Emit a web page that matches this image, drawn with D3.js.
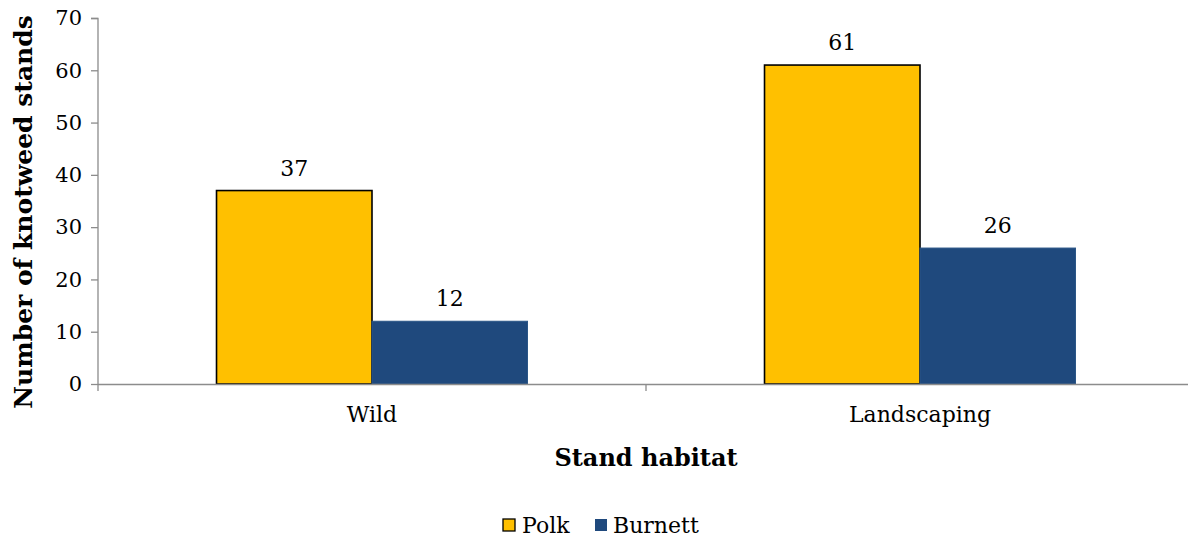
<!DOCTYPE html>
<html>
<head>
<meta charset="utf-8">
<script src="https://cdn.jsdelivr.net/npm/d3@7"></script>
<style>
  html, body { margin: 0; padding: 0; background: #fff; }
  svg text { font-family: "DejaVu Serif", Georgia, serif; fill: #000; }
</style>
</head>
<body>
<svg id="chart" width="1188" height="538"></svg>
<script>
// Knotweed stands by habitat and county
const categories = ["Wild", "Landscaping"];
const seriesNames = ["Polk", "Burnett"];
const polkValues = [37, 61];
const burnettValues = [12, 26];
const yTicks = [0, 10, 20, 30, 40, 50, 60, 70];

const colors = { Polk: "#FFC000", Burnett: "#1F497D" };
const strokes = { Polk: "#000000", Burnett: "#2A5587" };

const svg = d3.select("#chart");
const margin = { left: 98, right: -6, top: 18, bottom: 154 };
const W = 1188, H = 538;
const plotW = W - margin.left - margin.right;
const plotH = H - margin.top - margin.bottom;

const g = svg.append("g").attr("transform", `translate(${margin.left},${margin.top})`);

const x = d3.scaleBand().domain(categories).range([0, plotW]).paddingInner(0).paddingOuter(0);
const xSub = d3.scaleBand().domain(seriesNames).range([0, x.bandwidth()]).paddingInner(0).paddingOuter(0.7622);
const y = d3.scaleLinear().domain([0, 70]).range([plotH, 0]);

// Y axis
const yAxis = g.append("g").call(d3.axisLeft(y).tickValues(yTicks).tickSize(7).tickPadding(9));
yAxis.selectAll("path, line").attr("stroke", "#8c8c8c").attr("stroke-width", 1.3);
yAxis.select(".domain").attr("d", `M-7,0.5H0V${plotH}`);
yAxis.selectAll("text").attr("font-size", 21).style("font-family", '"DejaVu Serif", serif');

// Bars
const data = categories.map((c, i) => ({ cat: c, values: [
  { name: "Polk", v: polkValues[i] },
  { name: "Burnett", v: burnettValues[i] }
]}));

const groups = g.selectAll(".grp").data(data).join("g")
  .attr("transform", d => `translate(${x(d.cat)},0)`);

groups.selectAll("rect").data(d => d.values).join("rect")
  .attr("x", d => xSub(d.name))
  .attr("y", d => y(d.v))
  .attr("width", xSub.bandwidth())
  .attr("height", d => plotH - y(d.v))
  .attr("fill", d => colors[d.name])
  .attr("stroke", d => strokes[d.name])
  .attr("stroke-width", d => d.name === "Polk" ? 1.6 : 1);

groups.selectAll("text.val").data(d => d.values).join("text")
  .attr("class", "val")
  .attr("x", d => xSub(d.name) + xSub.bandwidth() / 2)
  .attr("y", d => y(d.v) - 15)
  .attr("text-anchor", "middle")
  .attr("font-size", 22)
  .text(d => d.v);

// X axis
const xAxis = g.append("g").attr("transform", `translate(0,${plotH})`)
  .call(d3.axisBottom(x).tickSize(0).tickPadding(22));
xAxis.select(".domain").attr("stroke", "#8c8c8c").attr("stroke-width", 1.3).attr("d", `M0,0.5H${plotW}`);
xAxis.selectAll("text").attr("font-size", 22).style("font-family", '"DejaVu Serif", serif');
// category boundary ticks
xAxis.selectAll("line.bound").data([0, x.bandwidth(), plotW]).join("line")
  .attr("class", "bound")
  .attr("x1", d => d).attr("x2", d => d)
  .attr("y1", 0).attr("y2", 7)
  .attr("stroke", "#8c8c8c").attr("stroke-width", 1.3);

// Axis titles
svg.append("text")
  .attr("x", margin.left + x.bandwidth())
  .attr("y", 466)
  .attr("text-anchor", "middle")
  .attr("font-size", 24)
  .attr("font-weight", "bold")
  .text("Stand habitat");

svg.append("text")
  .attr("transform", `translate(32,${margin.top + plotH / 2 + 11}) rotate(-90)`)
  .attr("text-anchor", "middle")
  .attr("font-size", 25)
  .attr("font-weight", "bold")
  .text("Number of knotweed stands");

// Legend
const legend = svg.append("g").attr("transform", "translate(503,525)");
const legendItems = [
  { name: "Polk", dx: 0, tx: 19 },
  { name: "Burnett", dx: 92, tx: 110 }
];
legend.selectAll("rect").data(legendItems).join("rect")
  .attr("x", d => d.dx).attr("y", -6)
  .attr("width", 12).attr("height", 12)
  .attr("fill", d => colors[d.name])
  .attr("stroke", d => d.name === "Polk" ? "#000" : "none")
  .attr("stroke-width", 1.3);
legend.selectAll("text").data(legendItems).join("text")
  .attr("x", d => d.tx).attr("y", 0)
  .attr("dy", "0.36em")
  .attr("font-size", 22)
  .text(d => d.name);
</script>
</body>
</html>
